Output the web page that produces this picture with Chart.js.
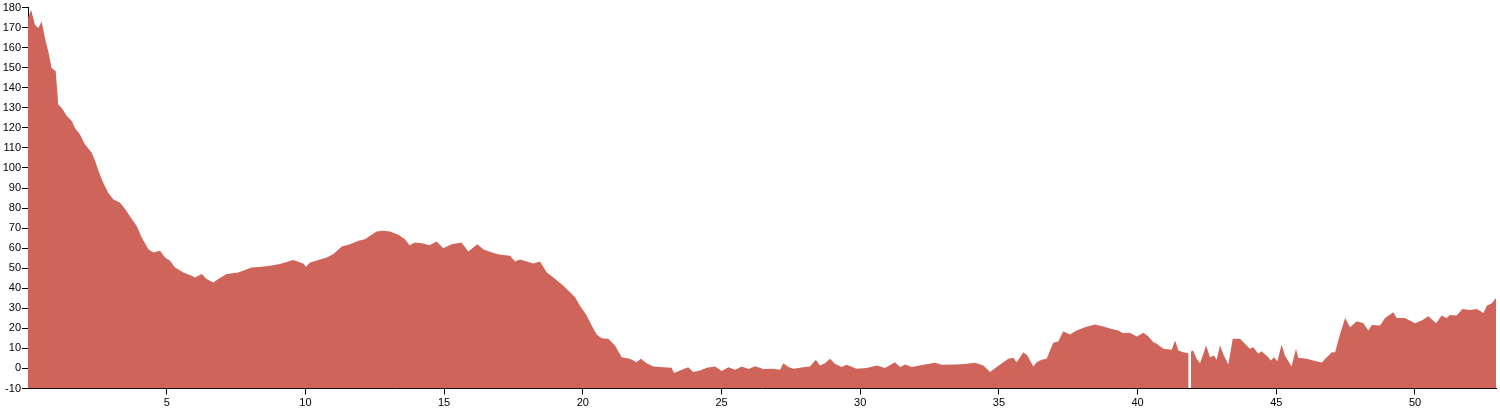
<!DOCTYPE html>
<html>
<head>
<meta charset="utf-8">
<script src="https://cdn.jsdelivr.net/npm/chart.js@4"></script>
<style>
  body { margin: 0; background: #fff; }
  #wrap { width: 1500px; height: 410px; }
</style>
</head>
<body>
<div id="wrap"><canvas id="profile"></canvas></div>
<script>
// distance values (x) and elevation values (y)
const xs = [
  0, 0.11, 0.25, 0.37, 0.49, 0.61, 0.73, 0.85, 1.00, 1.09,
  1.21, 1.40, 1.58, 1.69, 1.87, 2.05, 2.30, 2.42, 2.56, 2.71,
  2.89, 3.07, 3.32, 3.50, 3.74, 3.92, 4.10, 4.34, 4.52, 4.76,
  4.94, 5.12, 5.30, 5.60, 5.90, 6.02, 6.26, 6.44, 6.68, 6.86,
  7.16, 7.58, 8.06, 8.42, 8.72, 9.08, 9.56, 9.92, 10.02, 10.17,
  10.47, 10.77, 11.01, 11.31, 11.61, 11.91, 12.15, 12.33, 12.57, 12.81,
  13.05, 13.35, 13.59, 13.75, 13.95, 14.25, 14.47, 14.73, 14.97, 15.27,
  15.63, 15.87, 16.20, 16.41, 16.72, 17.02, 17.38, 17.56, 17.74, 17.98,
  18.21, 18.46, 18.70, 18.94, 19.30, 19.54, 19.72, 19.90, 20.14, 20.32,
  20.50, 20.68, 20.92, 21.16, 21.40, 21.70, 21.94, 22.09, 22.30, 22.54,
  22.90, 23.20, 23.29, 23.50, 23.80, 23.98, 24.22, 24.47, 24.77, 25.01,
  25.25, 25.49, 25.73, 25.97, 26.21, 26.51, 26.87, 27.11, 27.23, 27.41,
  27.59, 27.95, 28.19, 28.40, 28.55, 28.73, 28.91, 29.09, 29.33, 29.51,
  29.87, 30.23, 30.60, 30.89, 31.25, 31.44, 31.62, 31.86, 32.28, 32.70,
  32.94, 33.48, 33.84, 34.14, 34.44, 34.68, 34.92, 35.34, 35.52, 35.64,
  35.88, 36.03, 36.24, 36.36, 36.54, 36.72, 36.96, 37.14, 37.32, 37.56,
  37.80, 38.10, 38.46, 38.76, 39.07, 39.30, 39.48, 39.72, 39.97, 40.21,
  40.39, 40.57, 40.69, 40.93, 41.23, 41.35, 41.47, 41.65, 41.84, 41.88,
  41.92, 42.00, 42.13, 42.25, 42.47, 42.61, 42.75, 42.85, 42.97, 43.11,
  43.27, 43.43, 43.69, 43.87, 44.05, 44.17, 44.35, 44.47, 44.71, 44.80,
  44.92, 45.04, 45.19, 45.31, 45.55, 45.71, 45.79, 46.10, 46.33, 46.64,
  46.82, 47.00, 47.12, 47.30, 47.48, 47.66, 47.90, 48.14, 48.32, 48.44,
  48.74, 48.92, 49.22, 49.34, 49.64, 50.00, 50.24, 50.48, 50.76, 50.96,
  51.14, 51.26, 51.50, 51.71, 51.98, 52.23, 52.47, 52.59, 52.77, 52.92
];
const ys = [
  174.8, 178.9, 171.5, 169.8, 173.1, 164.8, 158.2, 149.9, 148.3, 131.7,
  130.0, 125.9, 123.4, 120.0, 116.8, 111.8, 107.6, 103.5, 97.7, 92.7,
  87.7, 84.4, 82.7, 79.5, 74.5, 71.1, 65.3, 59.5, 57.9, 58.7,
  55.4, 53.7, 50.4, 47.9, 46.3, 45.4, 47.1, 44.6, 42.9, 44.6,
  47.1, 47.9, 50.4, 50.7, 51.2, 52.1, 54.1, 52.4, 50.7, 52.9,
  54.1, 55.4, 57.1, 60.8, 62.0, 63.7, 64.5, 66.2, 68.3, 68.7,
  68.3, 66.7, 64.5, 61.5, 62.8, 62.3, 61.5, 63.3, 60.0, 62.0,
  62.8, 58.4, 62.0, 59.5, 57.9, 56.7, 56.2, 53.4, 54.4, 53.4,
  52.4, 53.4, 47.9, 45.4, 41.3, 38.0, 35.5, 31.3, 26.4, 21.4,
  16.9, 15.1, 14.8, 11.4, 5.6, 4.8, 3.1, 4.8, 2.6, 1.0,
  0.6, 0.3, -2.3, -1.0, 0.6, -1.8, -1.0, 0.3, 1.0, -1.3,
  0.6, -0.7, 1.0, -0.3, 1.1, -0.3, -0.2, -0.7, 2.6, 0.7,
  -0.2, 0.6, 1.0, 4.3, 1.5, 2.6, 4.8, 2.3, 0.7, 1.8,
  -0.2, 0.2, 1.5, 0.2, 3.1, 0.7, 2.0, 0.7, 1.8, 2.8,
  1.8, 2.0, 2.3, 2.8, 1.5, -1.8, 0.7, 4.8, 5.3, 3.1,
  8.1, 6.5, 1.0, 3.1, 4.3, 4.8, 12.8, 13.4, 18.6, 16.9,
  18.9, 20.5, 21.9, 20.9, 19.7, 18.9, 17.6, 17.8, 15.9, 17.8,
  15.9, 13.1, 12.3, 9.8, 9.3, 13.9, 9.0, 8.1, 7.6, null,
  8.5, 9.0, 4.8, 2.6, 11.4, 5.6, 6.5, 4.3, 11.4, 6.5,
  2.0, 14.8, 14.8, 12.3, 9.8, 10.6, 7.3, 8.6, 5.6, 4.0,
  5.6, 3.6, 11.9, 6.5, 1.0, 9.8, 5.3, 4.8, 4.0, 3.0,
  5.6, 8.1, 8.1, 17.2, 25.2, 20.5, 23.5, 22.5, 18.9, 21.7,
  21.4, 25.2, 28.0, 25.2, 25.2, 22.5, 23.9, 26.0, 22.5, 26.4,
  25.2, 26.7, 26.4, 29.7, 29.2, 29.7, 27.7, 31.3, 32.5, 35.2
];
const xTicks = [5, 10, 15, 20, 25, 30, 35, 40, 45, 50];
const yTicks = [-10, 0, 10, 20, 30, 40, 50, 60, 70, 80, 90, 100, 110, 120, 130, 140, 150, 160, 170, 180];

const points = xs.map((x, i) => ({ x: x, y: ys[i] }));

Chart.defaults.font.family = "'Liberation Sans', Arial, sans-serif";
Chart.defaults.font.size = 11;
Chart.defaults.color = "#000";

const axisGrid = {
  drawOnChartArea: false,
  drawTicks: true,
  tickLength: 6,
  color: "#000",
  lineWidth: 1,
};

new Chart(document.getElementById("profile"), {
  type: "line",
  data: {
    datasets: [
      {
        data: points,
        fill: "start",
        backgroundColor: "#cf655a",
        borderWidth: 0,
        pointRadius: 0,
        tension: 0,
        spanGaps: false,
      },
    ],
  },
  options: {
    responsive: true,
    maintainAspectRatio: false,
    animation: false,
    layout: { padding: { top: 6, right: 4, left: 0, bottom: 0 } },
    plugins: {
      legend: { display: false },
      tooltip: { enabled: false },
    },
    scales: {
      x: {
        type: "linear",
        min: 0,
        max: 52.92,
        grid: axisGrid,
        border: { display: true, color: "#000", width: 1 },
        afterBuildTicks: (scale) => {
          scale.ticks = xTicks.map((v) => ({ value: v }));
        },
        afterFit: (scale) => {
          scale.height = 21.5;
        },
        ticks: { padding: 2, maxRotation: 0, autoSkip: false },
      },
      y: {
        min: -10,
        max: 180,
        grid: axisGrid,
        border: { display: true, color: "#000", width: 1 },
        afterBuildTicks: (scale) => {
          scale.ticks = yTicks.map((v) => ({ value: v }));
        },
        afterFit: (scale) => {
          scale.width = 28;
        },
        ticks: { padding: 1, autoSkip: false },
      },
    },
  },
});
</script>
</body>
</html>
